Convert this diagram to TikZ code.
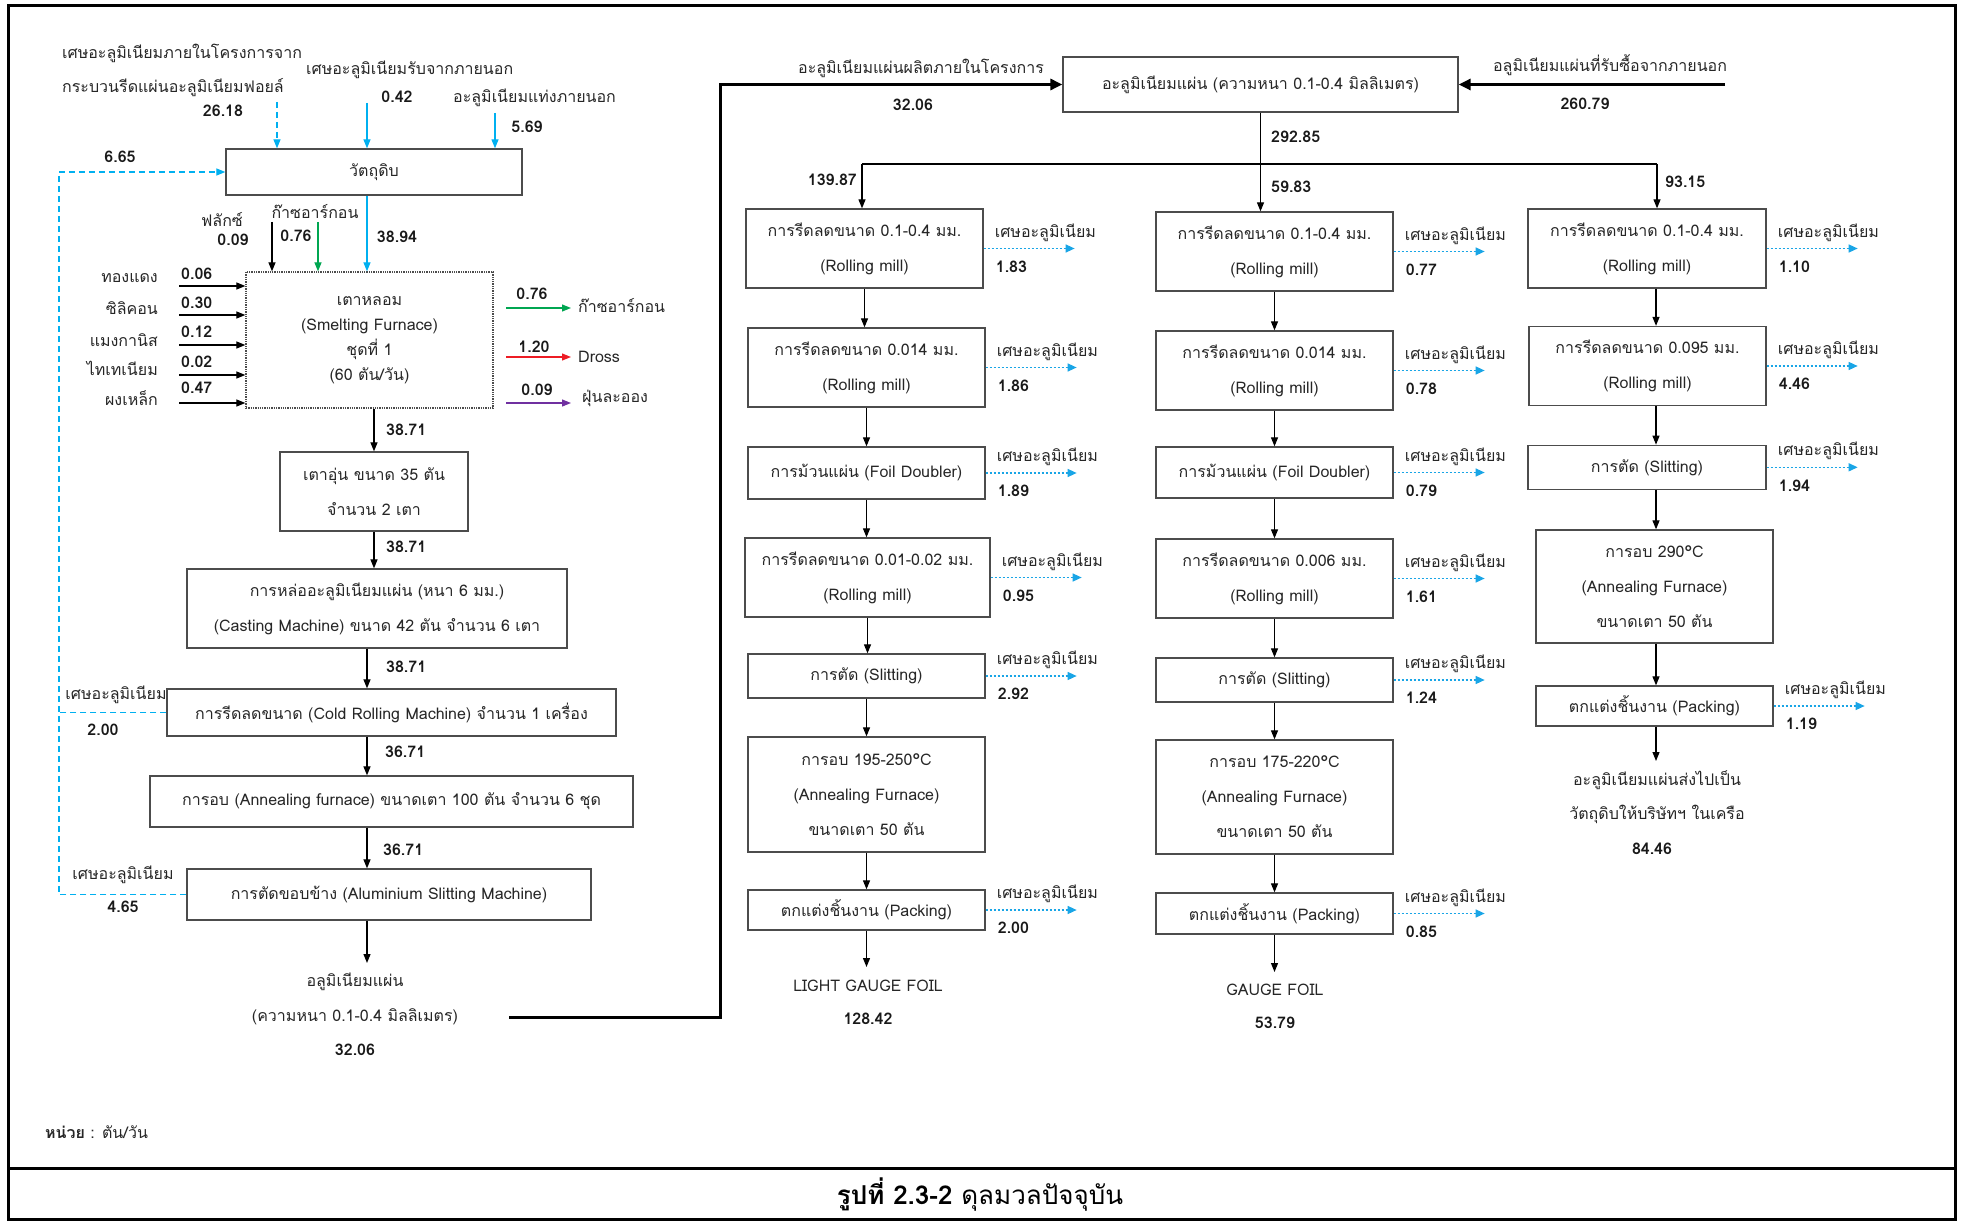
\documentclass[tikz,border=0pt]{standalone}
\usepackage{fontspec}
\setmainfont[Script=Thai]{Loma}
\usetikzlibrary{arrows.meta}
\definecolor{cyanl}{RGB}{0,176,240}
\definecolor{wblue}{RGB}{25,165,230}
\definecolor{ggreen}{RGB}{0,166,81}
\definecolor{rred}{RGB}{237,28,36}
\definecolor{ppurple}{RGB}{112,48,160}
\newcommand{\wasteout}[2]{%
  \coordinate (#1w) at ([xshift=91pt]#1.east);
  \draw[waste] (#1.east) -- (#1w);
  \node[txt, anchor=west] (#1wl) at ([xshift=11pt,yshift=16pt]#1.east) {เศษอะลูมิเนียม};
  \node[num, anchor=west] (#1wn) at ([xshift=12pt,yshift=-18pt]#1.east) {#2};
}
\begin{document}
\begin{tikzpicture}[x=1pt,y=-1pt,
  box/.style={draw=black!70, line width=1.3pt, align=center, inner sep=0pt,
    font=\fontsize{16}{35}\selectfont, text=black!85},
  bx/.style 2 args={box, minimum width=#1, minimum height=#2},
  txt/.style={inner sep=0pt, font=\fontsize{16}{20}\selectfont, text=black!85},
  num/.style={inner sep=0pt, font=\fontsize{16}{20}\selectfont\bfseries, text=black!90},
  arr/.style={line width=1.2pt, draw=black, -{Triangle[length=9pt,width=7pt]}},
  garr/.style={line width=1.2pt, draw=ggreen, -{Triangle[length=9pt,width=7pt]}},
  rarr/.style={line width=1.2pt, draw=rred, -{Triangle[length=9pt,width=7pt]}},
  parr/.style={line width=1.2pt, draw=ppurple, -{Triangle[length=9pt,width=7pt]}},
  barr/.style={line width=1.2pt, draw=cyanl, -{Triangle[length=9pt,width=7pt]}},
  waste/.style={draw=wblue, line width=1.4pt, dash pattern=on 2pt off 2pt, -{Triangle[length=9pt,width=8pt]}},
  recyc/.style={draw=cyanl, line width=1.2pt, dash pattern=on 6pt off 4pt},
  thk/.style={line width=3pt, draw=black, -{Triangle[length=12pt,width=11pt]}}
]
\useasboundingbox (0,0) rectangle (1961,1222);
\draw[line width=3pt] (8,6) rectangle (1955,1219);
\draw[line width=3pt] (8,1168) -- (1955,1168);

% ---------------- left section ----------------
\node[bx={296pt}{46pt}] (raw) at (374,172) {วัตถุดิบ};
\node[bx={247pt}{136pt}, densely dotted, font=\fontsize{16}{25}\selectfont] (furn) at (369.5,340)
  {เตาหลอม\\(Smelting Furnace)\\ชุดที่ 1\\(60 ตัน/วัน)};
\node[bx={188pt}{79pt}] (pre) at (374,491.5) {เตาอุ่น ขนาด 35 ตัน\\จำนวน 2 เตา};
\node[bx={380pt}{79pt}] (cast) at (377,608.5) {การหล่ออะลูมิเนียมแผ่น (หนา 6 มม.)\\(Casting Machine) ขนาด 42 ตัน จำนวน 6 เตา};
\node[bx={449pt}{47pt}] (cold) at (391.5,712.5) {การรีดลดขนาด (Cold Rolling Machine) จำนวน 1 เครื่อง};
\node[bx={483pt}{51pt}] (annl) at (391.5,801.5) {การอบ (Annealing furnace) ขนาดเตา 100 ตัน จำนวน 6 ชุด};
\node[bx={404pt}{51pt}] (slit) at (389,894.5) {การตัดขอบข้าง (Aluminium Slitting Machine)};

% top inputs
\node[txt, anchor=west] (t1a) at (62,53) {เศษอะลูมิเนียมภายในโครงการจาก};
\node[txt, anchor=west] (t1b) at (62,88) {กระบวนรีดแผ่นอะลูมิเนียมฟอยล์};
\node[num] (t1n) at (223,111) {26.18};
\node[txt, anchor=west] (t2a) at (306,70) {เศษอะลูมิเนียมรับจากภายนอก};
\node[num] (t2n) at (397,97) {0.42};
\node[txt, anchor=west] (t3a) at (453,98) {อะลูมิเนียมแท่งภายนอก};
\node[num] (t3n) at (527,127) {5.69};
\coordinate (i1) at (277,102);
\coordinate (i2) at (367,103);
\coordinate (i3) at (495,113);
\draw[recyc, -{Triangle[length=9pt,width=7pt]}] (i1) -- (raw.north -| i1);
\draw[barr] (i2) -- (raw.north -| i2);
\draw[barr] (i3) -- (raw.north -| i3);

% recycle line
\coordinate (xrc) at (59,0);
\node[num] (r0n) at (120,157) {6.65};
\draw[recyc] (slit.west) -- (slit.west -| xrc) -- (raw.west -| xrc);
\draw[recyc, -{Triangle[length=9pt,width=7pt]}] (raw.west -| xrc) -- (raw.west);
\draw[recyc] (cold.west) -- (cold.west -| xrc);
\node[txt] (r1l) at (116,695) {เศษอะลูมิเนียม};
\node[num] (r1n) at (103,730) {2.00};
\node[txt] (r2l) at (123,875) {เศษอะลูมิเนียม};
\node[num] (r2n) at (123,907) {4.65};

% inputs to furnace from top
\coordinate (fx) at (272,222);
\coordinate (ar) at (318,222);
\draw[arr] (fx) -- (furn.north -| fx);
\draw[garr] (ar) -- (furn.north -| ar);
\draw[barr] (raw.south -| i2) -- (furn.north -| i2);
\node[txt] (fxl) at (222,220) {ฟลักซ์};
\node[num] (fxn) at (233,240) {0.09};
\node[txt] (arl) at (315,212) {ก๊าซอาร์กอน};
\node[num] (arn) at (296,236) {0.76};
\node[num] (rwn) at (397,237) {38.94};

% inputs from left
\coordinate (in1) at (179,286);
\coordinate (in2) at (179,315);
\coordinate (in3) at (179,345);
\coordinate (in4) at (179,375);
\coordinate (in5) at (179,403);
\draw[arr] (in1) -- (in1 -| furn.west);
\draw[arr] (in2) -- (in2 -| furn.west);
\draw[arr] (in3) -- (in3 -| furn.west);
\draw[arr] (in4) -- (in4 -| furn.west);
\draw[arr] (in5) -- (in5 -| furn.west);
\node[txt, anchor=east] (m1) at (158,278) {ทองแดง};
\node[txt, anchor=east] (m2) at (158,308) {ซิลิคอน};
\node[txt, anchor=east] (m3) at (158,340) {แมงกานิส};
\node[txt, anchor=east] (m4) at (158,368) {ไทเทเนียม};
\node[txt, anchor=east] (m5) at (158,398) {ผงเหล็ก};
\node[num, anchor=west] (v1) at (181,274) {0.06};
\node[num, anchor=west] (v2) at (181,303) {0.30};
\node[num, anchor=west] (v3) at (181,332) {0.12};
\node[num, anchor=west] (v4) at (181,362) {0.02};
\node[num, anchor=west] (v5) at (181,388) {0.47};

% outputs to right
\coordinate (o1) at (571,308);
\coordinate (o2) at (571,357);
\coordinate (o3) at (571,403);
\coordinate (oxs) at (506,0);
\draw[garr] (o1 -| oxs) -- (o1);
\draw[rarr] (o2 -| oxs) -- (o2);
\draw[parr] (o3 -| oxs) -- (o3);
\node[num] (o1n) at (532,294) {0.76};
\node[num] (o2n) at (534,347) {1.20};
\node[num] (o3n) at (537,390) {0.09};
\node[txt, anchor=west] (o1l) at (578,306) {ก๊าซอาร์กอน};
\node[txt, anchor=west] (o2l) at (578,357) {Dross};
\node[txt, anchor=west] (o3l) at (582,398) {ฝุ่นละออง};

% main chain
\coordinate (xl) at (367,0);
\draw[arr] (furn.south -| pre.north) -- (pre.north);
\draw[arr] (pre.south) -- (pre.south |- cast.north);
\draw[arr] (cast.south -| xl) -- (cold.north -| xl);
\draw[arr] (cold.south -| xl) -- (annl.north -| xl);
\draw[arr] (annl.south -| xl) -- (slit.north -| xl);
\coordinate (aout) at (367,963);
\draw[arr] (slit.south -| xl) -- (aout);
\node[num, anchor=west] (c1) at (386,430) {38.71};
\node[num, anchor=west] (c2) at (386,547) {38.71};
\node[num, anchor=west] (c3) at (386,667) {38.71};
\node[num, anchor=west] (c4) at (385,752) {36.71};
\node[num, anchor=west] (c5) at (383,850) {36.71};
\node[txt] (outA) at (355,982) {อลูมิเนียมแผ่น};
\node[txt] (outB) at (355,1017) {(ความหนา 0.1-0.4 มิลลิเมตร)};
\node[num] (outC) at (355,1050) {32.06};

% ---------------- connection ----------------
\node[bx={395pt}{55pt}] (top) at (1260.5,84.5) {อะลูมิเนียมแผ่น (ความหนา 0.1-0.4 มิลลิเมตร)};
\coordinate (tstart) at (509,1017);
\coordinate (xt) at (720,0);
\draw[thk] (tstart) -- (tstart -| xt) |- (top.west);
\coordinate (bin) at (1725,84.5);
\draw[thk] (bin) -- (top.east);
\node[txt] (inl) at (921,68) {อะลูมิเนียมแผ่นผลิตภายในโครงการ};
\node[num] (inn) at (913,105) {32.06};
\node[txt] (exl) at (1610,65) {อลูมิเนียมแผ่นที่รับซื้อจากภายนอก};
\node[num] (exn) at (1585,104) {260.79};

% ---------------- columns ----------------
\node[bx={237pt}{79pt}] (L1) at (864.5,248.5) {การรีดลดขนาด 0.1-0.4 มม.\\(Rolling mill)};
\node[bx={237pt}{79pt}] (L2) at (866.5,367.5) {การรีดลดขนาด 0.014 มม.\\(Rolling mill)};
\node[bx={237pt}{52pt}] (L3) at (866.5,473) {การม้วนแผ่น (Foil Doubler)};
\node[bx={245pt}{79pt}] (L4) at (867.5,577.5) {การรีดลดขนาด 0.01-0.02 มม.\\(Rolling mill)};
\node[bx={237pt}{44pt}] (L5) at (866.5,676) {การตัด (Slitting)};
\node[bx={237pt}{115pt}] (L6) at (866.5,794.5) {การอบ 195-250°C\\(Annealing Furnace)\\ขนาดเตา 50 ตัน};
\node[bx={237pt}{40pt}] (L7) at (866.5,910) {ตกแต่งชิ้นงาน (Packing)};

\node[bx={237pt}{79pt}] (M1) at (1274.5,251.5) {การรีดลดขนาด 0.1-0.4 มม.\\(Rolling mill)};
\node[bx={237pt}{79pt}] (M2) at (1274.5,370.5) {การรีดลดขนาด 0.014 มม.\\(Rolling mill)};
\node[bx={237pt}{51pt}] (M3) at (1274.5,472.5) {การม้วนแผ่น (Foil Doubler)};
\node[bx={237pt}{79pt}] (M4) at (1274.5,578.5) {การรีดลดขนาด 0.006 มม.\\(Rolling mill)};
\node[bx={237pt}{44pt}] (M5) at (1274.5,680) {การตัด (Slitting)};
\node[bx={237pt}{114pt}] (M6) at (1274.5,797) {การอบ 175-220°C\\(Annealing Furnace)\\ขนาดเตา 50 ตัน};
\node[bx={237pt}{41pt}] (M7) at (1274.5,913.5) {ตกแต่งชิ้นงาน (Packing)};

\node[bx={238pt}{79pt}] (R1) at (1647,248.5) {การรีดลดขนาด 0.1-0.4 มม.\\(Rolling mill)};
\node[bx={237pt}{79pt}] (R2) at (1647.5,366) {การรีดลดขนาด 0.095 มม.\\(Rolling mill)};
\node[bx={238pt}{44pt}] (R3) at (1647,467.3) {การตัด (Slitting)};
\node[bx={237pt}{113pt}] (R4) at (1654.5,586.5) {การอบ 290°C\\(Annealing Furnace)\\ขนาดเตา 50 ตัน};
\node[bx={237pt}{40pt}] (R5) at (1654.5,706) {ตกแต่งชิ้นงาน (Packing)};

% split
\coordinate (sp) at (0,164);
\coordinate (xr) at (1657,0);
\coordinate (xlc) at (862,0);
\draw[line width=1.2pt] (xlc |- sp) -- (xr |- sp);
\draw[arr] (top.south) -- (M1.north -| top.south);
\draw[arr] (xlc |- sp) -- (L1.north -| xlc);
\draw[arr] (xr |- sp) -- (R1.north -| xr);
\node[num, anchor=west] (s0) at (1271,137) {292.85};
\node[num, anchor=east] (s1) at (857,180) {139.87};
\node[num, anchor=west] (s2) at (1271,187) {59.83};
\node[num, anchor=west] (s3) at (1665,182) {93.15};

% column arrows
\draw[arr] (L1.south) -- (L1.south |- L2.north);
\draw[arr] (L2.south) -- (L2.south |- L3.north);
\draw[arr] (L3.south) -- (L3.south |- L4.north);
\draw[arr] (L4.south) -- (L4.south |- L5.north);
\draw[arr] (L5.south) -- (L5.south |- L6.north);
\draw[arr] (L6.south) -- (L6.south |- L7.north);
\coordinate (Le) at (863,967);
\draw[arr] (L7.south) -- (L7.south |- Le);
\node[txt] (Lo1) at (868,986) {LIGHT GAUGE FOIL};
\node[num] (Lo2) at (868,1019) {128.42};

\draw[arr] (M1.south) -- (M1.south |- M2.north);
\draw[arr] (M2.south) -- (M2.south |- M3.north);
\draw[arr] (M3.south) -- (M3.south |- M4.north);
\draw[arr] (M4.south) -- (M4.south |- M5.north);
\draw[arr] (M5.south) -- (M5.south |- M6.north);
\draw[arr] (M6.south) -- (M6.south |- M7.north);
\coordinate (Me) at (1268,972);
\draw[arr] (M7.south) -- (M7.south |- Me);
\node[txt] (Mo1) at (1275,990) {GAUGE FOIL};
\node[num] (Mo2) at (1275,1023) {53.79};

\coordinate (xrr) at (1656,0);
\draw[arr] (R1.south -| xrr) -- (R2.north -| xrr);
\draw[arr] (R2.south -| xrr) -- (R3.north -| xrr);
\draw[arr] (R3.south -| xrr) -- (R4.north -| xrr);
\draw[arr] (R4.south -| xrr) -- (R5.north -| xrr);
\coordinate (Re) at (1656,761);
\draw[arr] (R5.south -| xrr) -- (Re);
\node[txt] (Ro1) at (1657,780) {อะลูมิเนียมแผ่นส่งไปเป็น};
\node[txt] (Ro2) at (1657,814) {วัตถุดิบให้บริษัทฯ ในเครือ};
\node[num] (Ro3) at (1652,849) {84.46};

% waste outputs
\wasteout{L1}{1.83}
\wasteout{L2}{1.86}
\wasteout{L3}{1.89}
\wasteout{L4}{0.95}
\wasteout{L5}{2.92}
\wasteout{L7}{2.00}
\wasteout{M1}{0.77}
\wasteout{M2}{0.78}
\wasteout{M3}{0.79}
\wasteout{M4}{1.61}
\wasteout{M5}{1.24}
\wasteout{M7}{0.85}
\wasteout{R1}{1.10}
\wasteout{R2}{4.46}
\wasteout{R3}{1.94}
\wasteout{R5}{1.19}

% footer
\node[txt, anchor=west] (unit) at (45,1132) {\textbf{หน่วย} : ตัน/วัน};
\node[inner sep=0pt, font=\fontsize{26}{30}\selectfont] (cap) at (980,1195) {\textbf{รูปที่ 2.3-2} {\mdseries ดุลมวลปัจจุบัน}};
\end{tikzpicture}
\end{document}
